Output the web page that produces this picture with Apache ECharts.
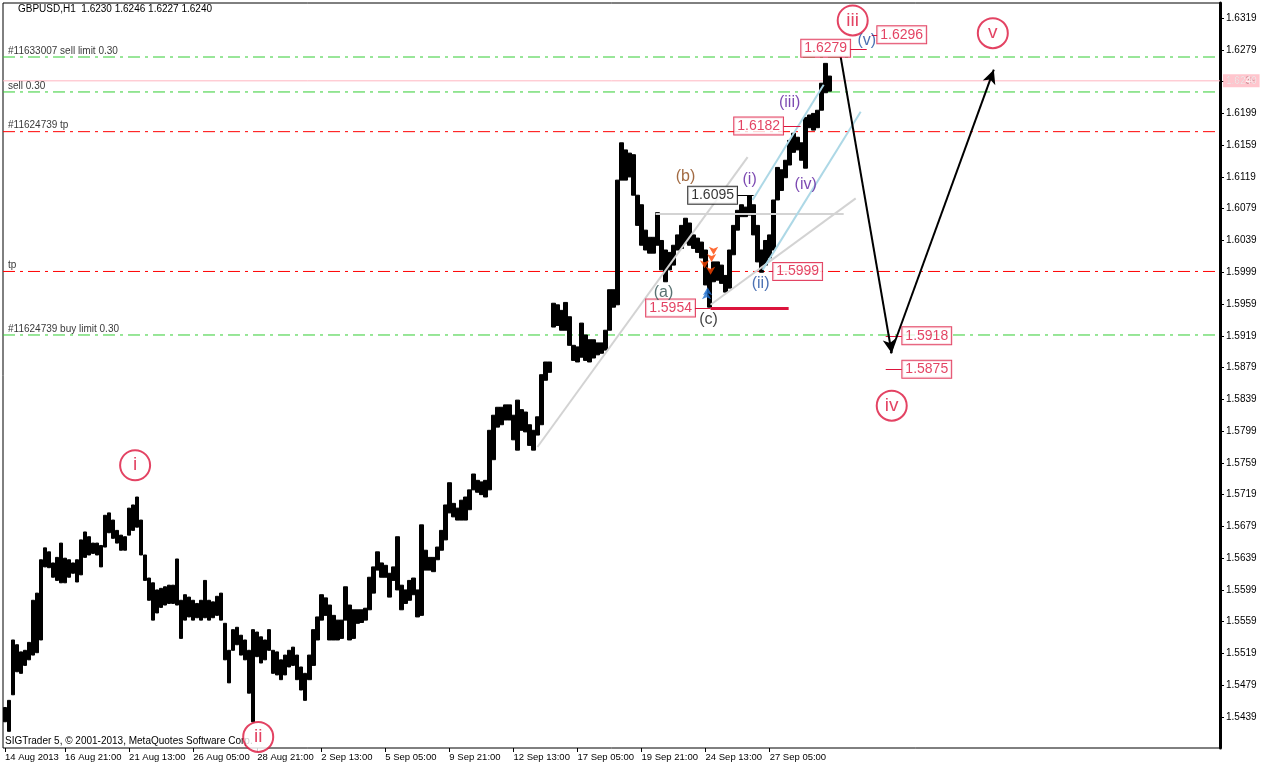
<!DOCTYPE html>
<html><head><meta charset="utf-8">
<script src="https://cdn.jsdelivr.net/npm/echarts@6/dist/echarts.min.js"></script>
<style>html,body{margin:0;padding:0;background:#fff}#c{width:1268px;height:769px}</style>
</head><body><div id="c"></div>
<script>
// ---------- data ----------
const chartTitle = 'GBPUSD,H1  1.6230 1.6246 1.6227 1.6240';
const copyright = 'SIGTrader 5, \u00a9 2001-2013, MetaQuotes Software Corp.';
const xTickLabels = ['14 Aug 2013','16 Aug 21:00','21 Aug 13:00','26 Aug 05:00','28 Aug 21:00','2 Sep 13:00','5 Sep 05:00','9 Sep 21:00','12 Sep 13:00','17 Sep 05:00','19 Sep 21:00','24 Sep 13:00','27 Sep 05:00'];
const yTickLabels = [1.5439,1.5479,1.5519,1.5559,1.5599,1.5639,1.5679,1.5719,1.5759,1.5799,1.5839,1.5879,1.5919,1.5959,1.5999,1.6039,1.6079,1.6119,1.6159,1.6199,1.6239,1.6279,1.6319];
// 4-hour blocks (high / low)
const highs = [1.5451,1.5460,1.5536,1.5530,1.5521,1.5523,1.5533,1.5586,1.5595,1.5637,
1.5652,1.5647,1.5633,1.5640,1.5658,1.5639,1.5637,1.5633,1.5637,1.5662,
1.5672,1.5666,1.5658,1.5658,1.5655,1.5693,1.5696,1.5687,1.5674,1.5668,
1.5666,1.5702,1.5706,1.5716,1.5687,1.5643,1.5614,1.5608,1.5599,1.5601,
1.5603,1.5605,1.5605,1.5638,1.5586,1.5593,1.5590,1.5586,1.5582,1.5586,
1.5611,1.5586,1.5584,1.5591,1.5595,1.5557,1.5523,1.5549,1.5552,1.5542,
1.5536,1.5523,1.5549,1.5546,1.5540,1.5536,1.5549,1.5523,1.5521,1.5511,
1.5517,1.5523,1.5527,1.5517,1.5502,1.5494,1.5517,1.5549,1.5565,1.5593,
1.5589,1.5580,1.5567,1.5561,1.5561,1.5603,1.5580,1.5574,1.5574,1.5574,
1.5576,1.5615,1.5628,1.5647,1.5633,1.5630,1.5620,1.5628,1.5666,1.5605,
1.5599,1.5611,1.5614,1.5599,1.5681,1.5649,1.5640,1.5640,1.5653,1.5674,
1.5706,1.5734,1.5708,1.5702,1.5712,1.5716,1.5725,1.5745,1.5737,1.5735,
1.5737,1.5800,1.5819,1.5829,1.5829,1.5832,1.5832,1.5819,1.5838,1.5826,
1.5823,1.5807,1.5800,1.5817,1.5870,1.5886,1.5886,1.5960,1.5958,1.5951,
1.5961,1.5943,1.5907,1.5905,1.5935,1.5920,1.5914,1.5914,1.5910,1.5910,
1.5926,1.5977,1.5977,1.6115,1.6162,1.6153,1.6149,1.6147,1.6096,1.6084,
1.6052,1.6043,1.6043,1.6074,1.6039,1.6027,1.6024,1.6033,1.6046,1.6058,
1.6067,1.6061,1.6046,1.6042,1.6037,1.6027,1.6002,1.6012,1.6012,1.6008,
1.5995,1.6027,1.6058,1.6077,1.6084,1.6081,1.6095,1.6084,1.6058,1.6027,
1.6039,1.6046,1.6090,1.6131,1.6128,1.6140,1.6165,1.6174,1.6169,1.6162,
1.6194,1.6197,1.6199,1.6203,1.6237,1.6262,1.6246];
const lows = [1.5433,1.5421,1.5467,1.5496,1.5494,1.5504,1.5511,1.5517,1.5520,1.5536,
1.5628,1.5627,1.5615,1.5611,1.5608,1.5608,1.5615,1.5620,1.5609,1.5618,
1.5640,1.5643,1.5645,1.5643,1.5628,1.5653,1.5671,1.5664,1.5658,1.5649,
1.5649,1.5668,1.5674,1.5678,1.5643,1.5611,1.5586,1.5561,1.5570,1.5577,
1.5580,1.5582,1.5582,1.5580,1.5538,1.5561,1.5565,1.5561,1.5564,1.5561,
1.5564,1.5561,1.5564,1.5567,1.5561,1.5511,1.5482,1.5523,1.5530,1.5517,
1.5511,1.5469,1.5433,1.5515,1.5507,1.5511,1.5523,1.5494,1.5492,1.5486,
1.5492,1.5502,1.5504,1.5486,1.5473,1.5460,1.5486,1.5504,1.5536,1.5561,
1.5567,1.5536,1.5536,1.5536,1.5538,1.5561,1.5536,1.5538,1.5557,1.5558,
1.5561,1.5574,1.5595,1.5624,1.5615,1.5615,1.5590,1.5611,1.5599,1.5574,
1.5582,1.5586,1.5593,1.5565,1.5567,1.5624,1.5624,1.5622,1.5637,1.5649,
1.5662,1.5696,1.5691,1.5687,1.5687,1.5687,1.5700,1.5725,1.5722,1.5719,
1.5716,1.5725,1.5763,1.5804,1.5807,1.5813,1.5813,1.5788,1.5775,1.5800,
1.5798,1.5781,1.5775,1.5794,1.5807,1.5863,1.5873,1.5930,1.5932,1.5926,
1.5926,1.5907,1.5888,1.5886,1.5892,1.5888,1.5886,1.5891,1.5895,1.5897,
1.5901,1.5926,1.5955,1.5958,1.6115,1.6115,1.6119,1.6096,1.6058,1.6033,
1.6027,1.6023,1.6023,1.6033,1.6002,1.5987,1.6002,1.6008,1.6027,1.6029,
1.6036,1.6033,1.6029,1.6024,1.6017,1.5983,1.5955,1.5987,1.5989,1.5985,
1.5974,1.5979,1.6021,1.6052,1.6069,1.6069,1.6071,1.6046,1.6012,1.5999,
1.6008,1.6017,1.6027,1.6090,1.6102,1.6118,1.6134,1.6150,1.6153,1.6140,
1.6130,1.6181,1.6178,1.6181,1.6203,1.6225,1.6227];

// order / level lines
const levelNames  = ['#11633007 sell limit 0.30','sell 0.30','#11624739 tp','tp','#11624739 buy limit 0.30'];
const levelPrices = [1.6270,1.6226,1.6176,1.6000,1.5920];
const lastPrice = 1.6240;

// wave labels (x in H1 bars from the left edge, y in price)
const circleNames  = ['i','ii','iii','iv','v'];
const circleBars   = [132,255,849,888,989];
const circlePrices = [1.5756,1.5414,1.6316,1.5831,1.6300];

const waveNames  = ['(a)','(b)','(c)','(i)','(ii)','(iii)','(iv)','(v)'];
const waveBars   = [660,682,705,746,757,786,802,863];
const wavePrices = [1.5973,1.6120,1.5940,1.6116,1.5985,1.6212,1.6109,1.6291];

const boxTexts  = ['1.6279','1.6296','1.6182','1.6095','1.5999','1.5954','1.5918','1.5875'];
const boxBars   = [822,898,755,709,794,667,923,923];
const boxPrices = [1.6281,1.6298,1.6183,1.6096,1.6000,1.5954,1.5919,1.5877];

// connectors [bar1, bar2, price]
const connectors = [[846,863,1.6280],[868,874,1.6298],[780,797,1.6183],[734,750,1.6096],[765,770,1.6000],[691,707,1.5954],[882,898,1.5919],[882,898,1.5877]];
// trend lines [bar1, price1, bar2, price2]
const grayLines = [[534,1.5779,744,1.6144],[652,1.6073,840,1.6073],[707,1.5958,852,1.6092]];
const blueLines = [[749,1.6090,820,1.6235],[759,1.6002,857,1.6201]];
const arrowLines = [[837,1.6270,888,1.5897],[887,1.5897,990,1.6254]];
const levelSegment = [707,785,1.5954];
const sellArrows = [[710,1.6021],[708,1.6012],[701,1.6004],[707,1.5996]];
const buyArrows  = [[704,1.5980],[703,1.5975]];

// ---------- build ----------
const SLOTS = 304;            // 4 H1 bars per slot
const BARS = SLOTS * 4;
const cats = Array.from({length: SLOTS}, (_, i) => String(i));
const labelAt = {};
xTickLabels.forEach((t, k) => { labelAt[k === 0 ? 0 : 15 + 16 * (k - 1)] = t; });
const candles = highs.map((h, i) => [lows[i], h, lows[i], h]);

const RED = '#dc143c';
const FONT = 'Liberation Sans';
const waveColors = {'(a)':'#2f4f4f','(b)':'#8b4513','(c)':'#111','(i)':'#5a1a9e','(ii)':'#1f4fa0','(iii)':'#5a1a9e','(iv)':'#5a1a9e','(v)':'#1f4fa0'};
const levelColors = ['#32cd32','#32cd32','#ff0000','#ff0000','#32cd32'];

function seg(x1,y1,x2,y2,style,sym){
  return [{coord:[x1,y1], symbol:'none', lineStyle: style}, {coord:[x2,y2], symbol: sym || 'none', symbolSize: sym ? [10,14] : 0, lineStyle: style}];
}
const overlaySegs = [];
grayLines.forEach(l => overlaySegs.push(seg(l[0],l[1],l[2],l[3],{color:'#d3d3d3',width:2,type:'solid'})));
blueLines.forEach(l => overlaySegs.push(seg(l[0],l[1],l[2],l[3],{color:'#add8e6',width:2,type:'solid'})));
overlaySegs.push(seg(levelSegment[0],levelSegment[2],levelSegment[1],levelSegment[2],{color:RED,width:3,type:'solid'}));
connectors.forEach((c, k) => overlaySegs.push(seg(c[0],c[2],c[1],c[2],{color: k===3 ? '#000' : RED,width:1,type:'solid'})));
arrowLines.forEach(l => overlaySegs.push(seg(l[0],l[1],l[2],l[3],{color:'#000',width:2,type:'solid'},'arrow')));

// level lines: one line series each
const levelSeries = levelNames.map((n, k) => ({
  type: 'line', name: n, xAxisIndex: 1, yAxisIndex: 0, z: 2, silent: true,
  data: [[0, levelPrices[k]], [BARS, levelPrices[k]]],
  showSymbol: false, symbol: 'none',
  lineStyle: {color: levelColors[k], width: 1, type: [12, 5, 3, 5]},
  itemStyle: {color: levelColors[k]}
}));
levelSeries.push({
  type: 'line', name: 'last', xAxisIndex: 1, yAxisIndex: 0, z: 2, silent: true,
  data: [[0, lastPrice], [BARS, lastPrice]], showSymbol: false, symbol: 'none',
  lineStyle: {color: '#ffb6c1', width: 1, type: 'solid'}, itemStyle: {color: '#ffb6c1'}
});
// level captions + last-price tag
const levelText = {
  type: 'scatter', name: 'levelText', xAxisIndex: 1, yAxisIndex: 0, z: 4, symbolSize: 0, clip: false, silent: true,
  data: levelNames.map((n, k) => ({value: [5, levelPrices[k]],
      label: {show: true, position: 'top', align: 'left', distance: 1, formatter: n, color: '#000', fontSize: 10, fontFamily: FONT}}))
    .concat([{value: [BARS, lastPrice],
      label: {show: true, position: 'right', distance: 3, formatter: lastPrice.toFixed(4), color: '#fff', backgroundColor: '#ffb6c1', padding: [2, 3, 1, 3], fontSize: 10, fontFamily: FONT}}])
};

const chart = echarts.init(document.getElementById('c'), null, {renderer:'canvas'});
chart.setOption({
  animation: false,
  backgroundColor: '#fff',
  textStyle: {fontFamily: FONT},
  title: [
    {text: chartTitle, left: 18, top: 4, padding: 0, textStyle: {fontSize: 10, fontWeight: 'normal', color: '#000', fontFamily: FONT}},
    {text: copyright, left: 5, top: 736, padding: 0, textStyle: {fontSize: 10, fontWeight: 'normal', color: '#000', fontFamily: FONT}}
  ],
  grid: {left: 3, right: 48, top: 3, bottom: 21, show: true, borderColor: '#000', borderWidth: 1, backgroundColor: 'transparent'},
  xAxis: [
    {type: 'category', data: cats, boundaryGap: true,
     axisLine: {show: false},
     axisTick: {show: true, alignWithLabel: true, length: 4, interval: i => labelAt[i] !== undefined, lineStyle: {color: '#000'}},
     axisLabel: {interval: i => labelAt[i] !== undefined, formatter: (v, i) => labelAt[i] || '', align: 'left', margin: 4, color: '#000', fontSize: 9.5, fontFamily: FONT},
     splitLine: {show: false}},
    {type: 'value', min: 0, max: BARS, show: false}
  ],
  yAxis: {type: 'value', position: 'right', min: 1.5400, max: 1.6338,
    axisLine: {show: true, onZero: false, lineStyle: {color: '#000', width: 3}},
    axisTick: {show: true, customValues: yTickLabels, length: 4, lineStyle: {color: '#000'}},
    axisLabel: {customValues: yTickLabels, formatter: v => v.toFixed(4), color: '#000', fontSize: 10, margin: 6, fontFamily: FONT},
    splitLine: {show: false}},
  series: levelSeries.concat([levelText,
    {type: 'candlestick', xAxisIndex: 0, yAxisIndex: 0, data: candles, barWidth: 4, barMaxWidth: 6, z: 3,
     itemStyle: {color: '#000', color0: '#000', borderColor: '#000', borderColor0: '#000', borderWidth: 1}},
    {type: 'scatter', name: 'overlay', xAxisIndex: 1, yAxisIndex: 0, z: 5,
     data: sellArrows.map(p => ({value: p, symbol: 'arrow', symbolRotate: 180, symbolSize: [7, 8], itemStyle: {color: '#ff4500'}}))
       .concat(buyArrows.map(p => ({value: p, symbol: 'arrow', symbolSize: [7, 8], itemStyle: {color: '#1e6fd0'}}))),
     markLine: {silent: true, animation: false, z: 6, label: {show: false}, data: overlaySegs}
    },
    {type: 'scatter', name: 'boxes', xAxisIndex: 1, yAxisIndex: 0, z: 8, symbolSize: 0,
     data: boxTexts.map((t, k) => ({value: [boxBars[k], boxPrices[k]], name: t,
       label: {show: true, position: 'inside', formatter: t, fontSize: 14, color: k === 3 ? '#000' : RED,
         backgroundColor: '#fff', borderColor: k === 3 ? '#000' : RED, borderWidth: 1, padding: [2, 3, 1, 3], fontFamily: FONT}}))
    },
    {type: 'scatter', name: 'waves', xAxisIndex: 1, yAxisIndex: 0, z: 9, symbolSize: 0,
     data: waveNames.map((t, k) => ({value: [waveBars[k], wavePrices[k]],
       label: {show: true, position: 'inside', formatter: t, fontSize: 16, color: waveColors[t], fontFamily: FONT}}))
    },
    {type: 'scatter', name: 'circles', xAxisIndex: 1, yAxisIndex: 0, z: 10, symbol: 'circle', symbolSize: 30,
     itemStyle: {color: '#fff', borderColor: RED, borderWidth: 2},
     data: circleNames.map((t, k) => ({value: [circleBars[k], circlePrices[k]],
       label: {show: true, position: 'inside', formatter: t, fontSize: 19, color: RED, fontFamily: FONT}}))
    }
  ])
});
</script>
</body></html>
